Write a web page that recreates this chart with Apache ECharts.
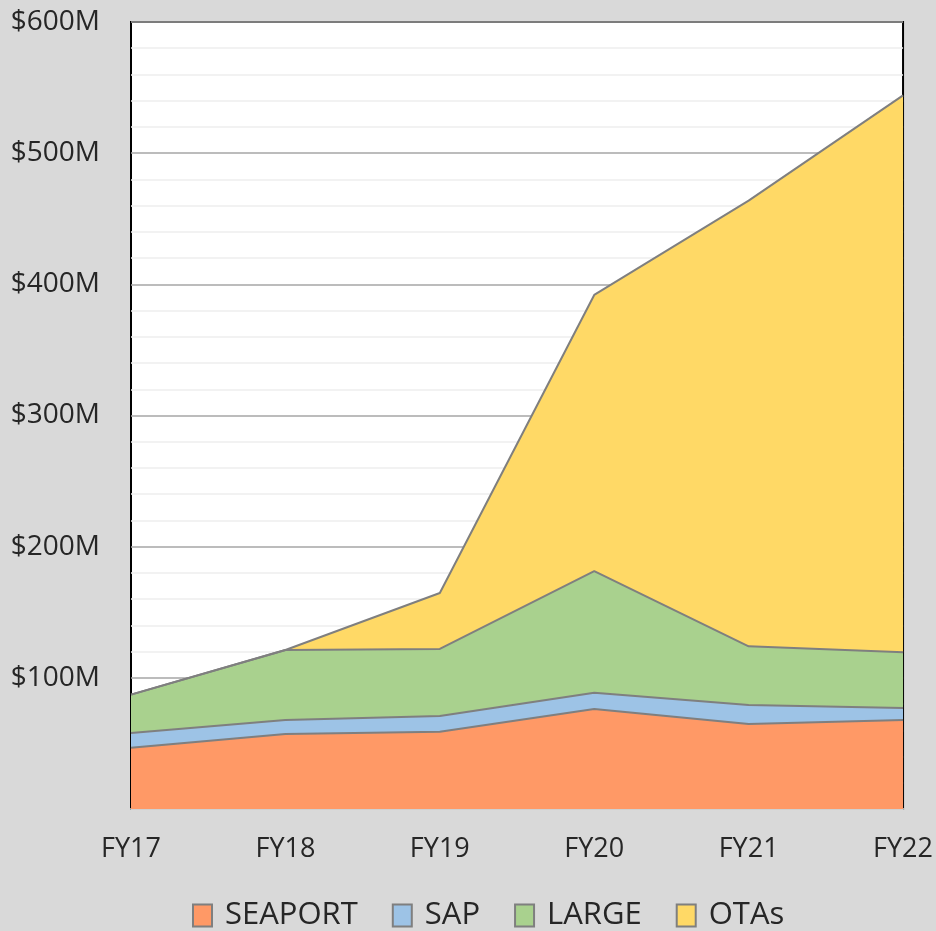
<!DOCTYPE html>
<html><head><meta charset="utf-8">
<script src="https://cdn.jsdelivr.net/npm/echarts@6/dist/echarts.min.js"></script>
<style>html,body{margin:0;padding:0;background:#D9D9D9;}#c{width:936px;height:931px;}</style>
</head><body><div id="c"></div>
<script>
const categories = ['FY17','FY18','FY19','FY20','FY21','FY22'];
const seaport = [46.7, 57.2, 58.9, 76.2, 64.8, 67.9];
const sap = [11.2, 10.7, 12.0, 12.5, 14.5, 9.1];
const large = [29.3, 53.3, 51.1, 92.7, 44.7, 42.5];
const otas = [0, 0, 42.7, 210.5, 339.8, 424.6];
const seriesNames = ['SEAPORT','SAP','LARGE','OTAs'];
const seriesColors = ['#FF9966','#9DC3E6','#A9D18E','#FFD966'];
const seriesData = [seaport, sap, large, otas];

const FONT = "'Open Sans', 'Noto Sans', sans-serif";
const chart = echarts.init(document.getElementById('c'));
chart.setOption({
  backgroundColor: '#D9D9D9',
  animation: false,
  textStyle: { fontFamily: FONT },
  grid: { left: 131, right: 32, top: 22, bottom: 122, show: true, backgroundColor: '#FFFFFF', borderColor: '#000000', borderWidth: 2 },
  legend: {
    top: 895, left: 187,
    data: seriesNames,
    icon: 'rect', itemWidth: 19, itemHeight: 22, itemGap: 34,
    itemStyle: { borderColor: '#7F7F7F', borderWidth: 2 },
    textStyle: { fontSize: 31, color: '#262626', fontFamily: FONT, padding: [0,0,0,8] }
  },
  xAxis: {
    type: 'category', data: categories, boundaryGap: false,
    axisLine: { lineStyle: { color: '#D0D0D0', width: 2 } },
    axisTick: { show: false },
    axisLabel: { fontSize: 27, color: '#262626', margin: 27, fontFamily: FONT },
    splitLine: { show: false }
  },
  yAxis: {
    type: 'value', min: 0, max: 600, interval: 100,
    axisLine: { show: false }, axisTick: { show: false },
    axisLabel: { fontSize: 28, color: '#262626', margin: 31, fontFamily: FONT, formatter: v => v === 0 ? '' : '$' + v + 'M', verticalAlign: 'middle' },
    splitLine: { lineStyle: { color: '#A6A6A6', width: 1.5 } },
    minorTick: { show: false, splitNumber: 5 },
    minorSplitLine: { show: true, lineStyle: { color: '#EEEEEE', width: 1.5 } }
  },
  series: seriesData.map((d, i) => ({
    name: seriesNames[i], type: 'line', stack: 'total', data: d,
    symbol: 'none', showSymbol: false,
    lineStyle: { color: '#7F7F7F', width: 2 },
    itemStyle: { color: seriesColors[i], borderColor: '#7F7F7F', borderWidth: 2 },
    areaStyle: { color: seriesColors[i], opacity: 1 },
    z: 2
  }))
});
</script></body></html>
